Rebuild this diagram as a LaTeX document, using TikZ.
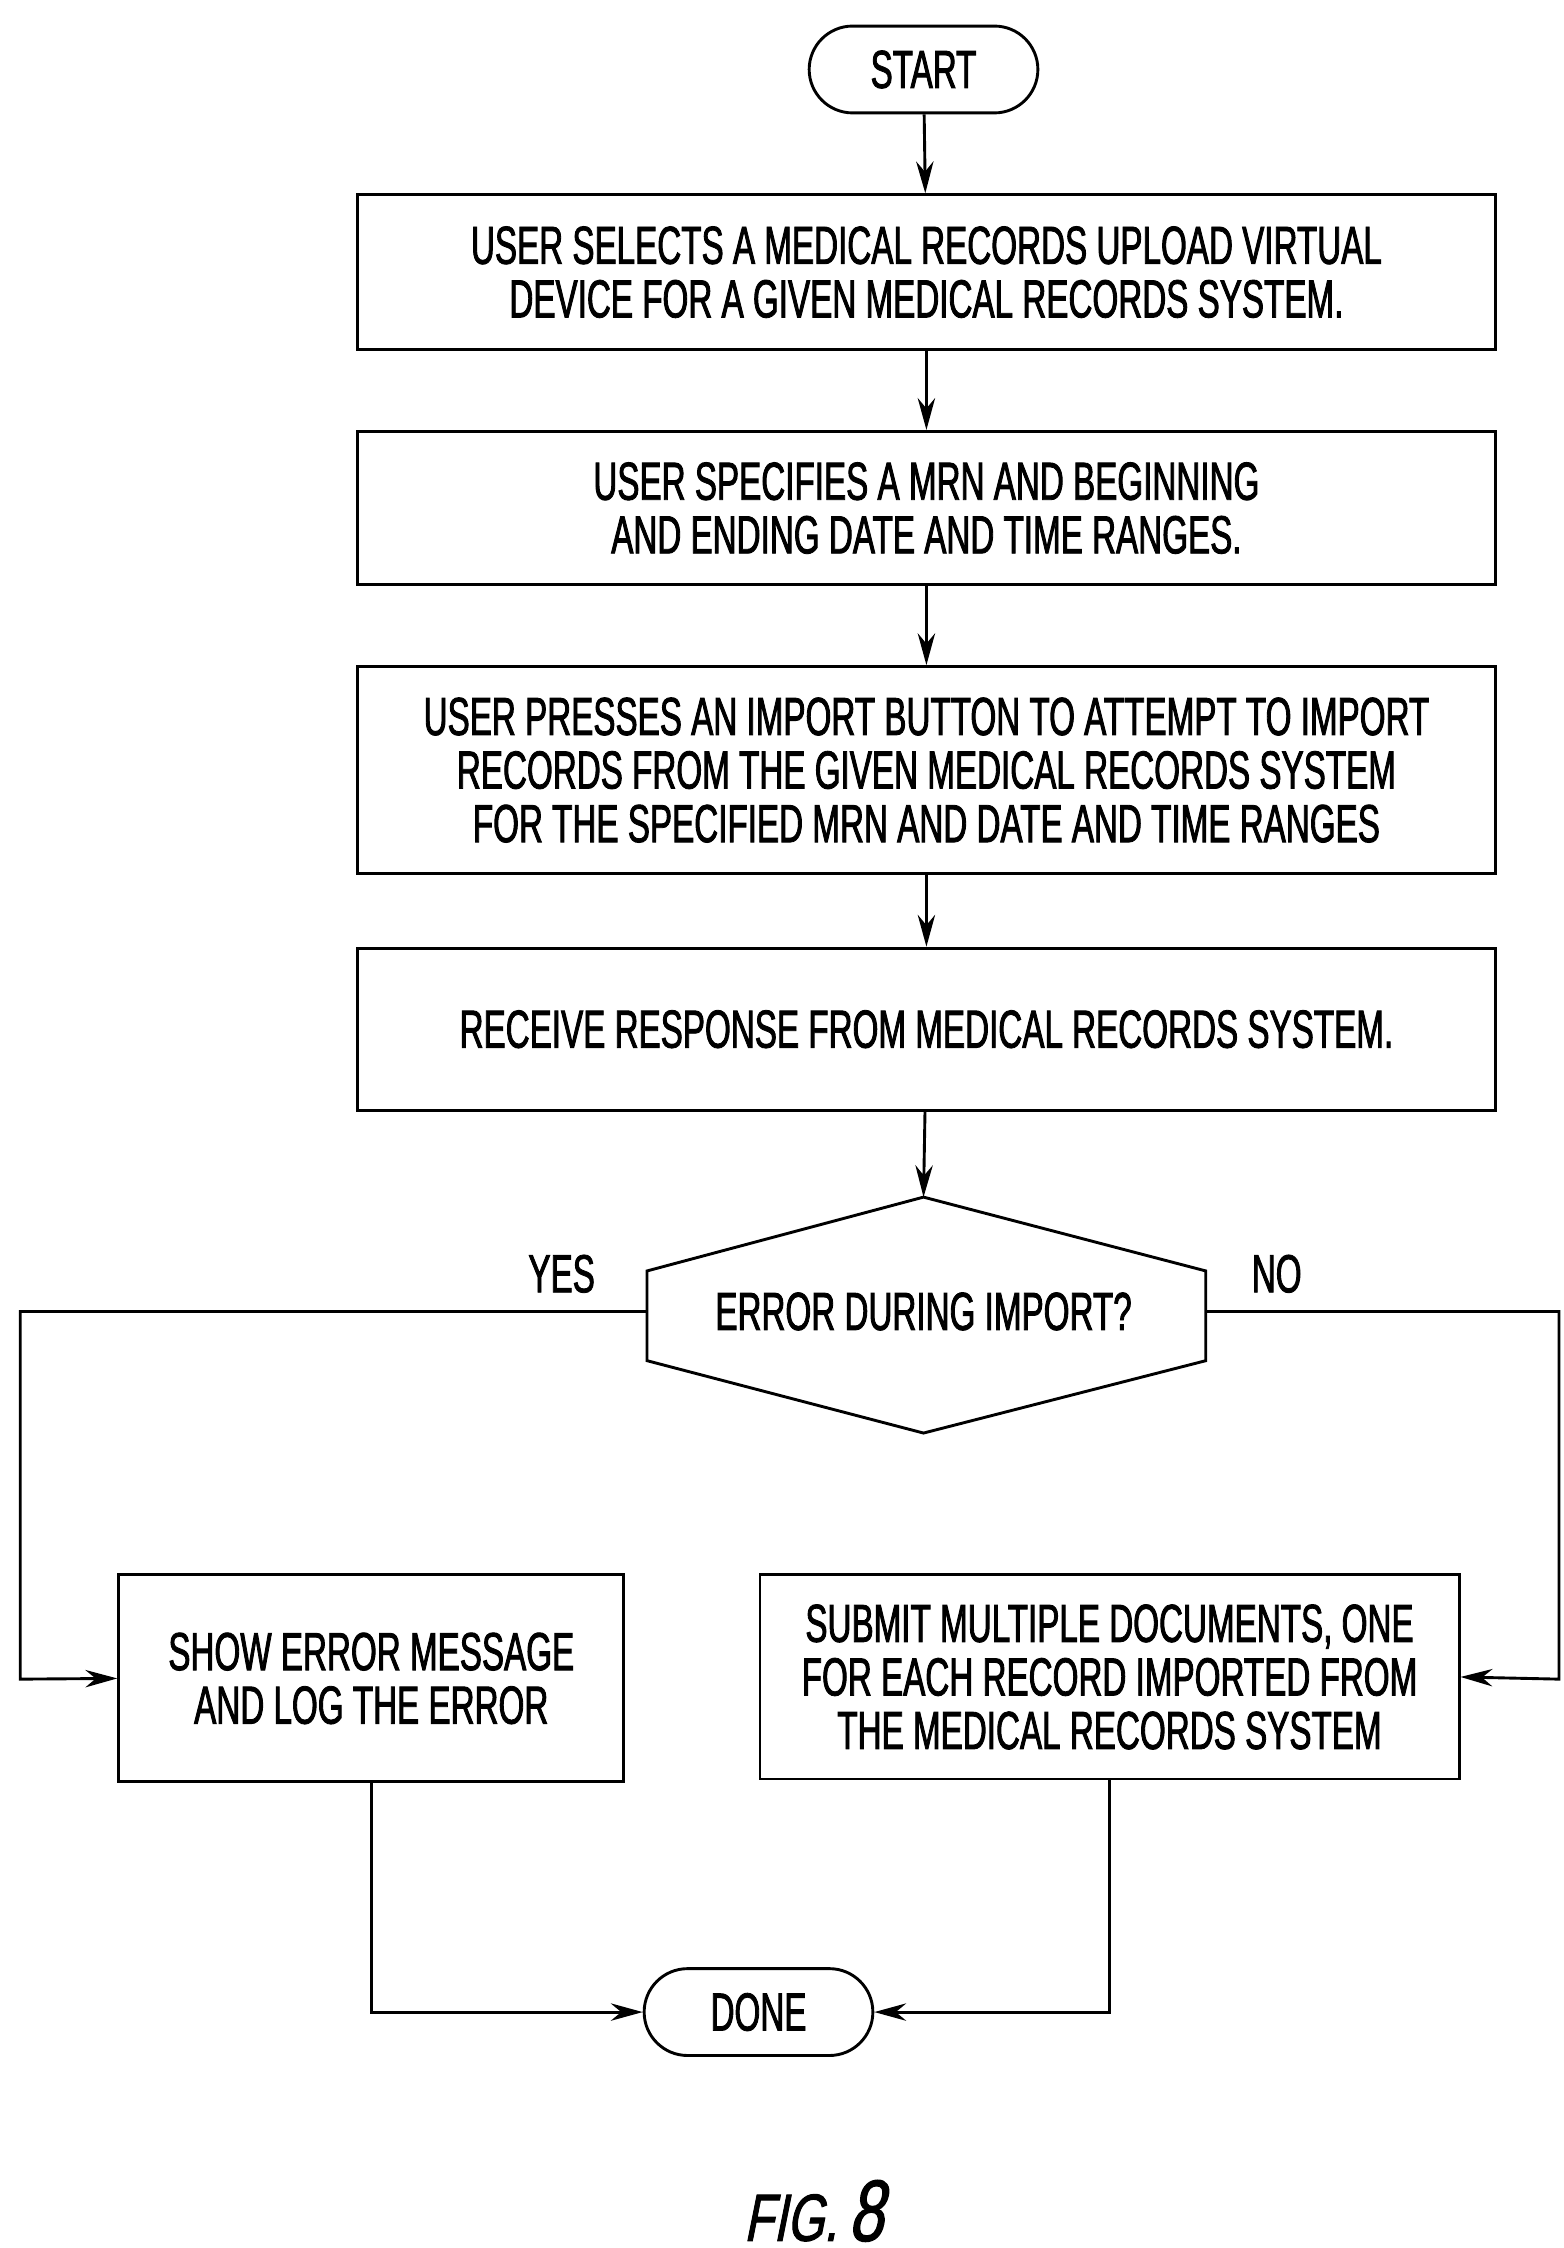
\documentclass[tikz,border=0pt]{standalone}
\usepackage{fontspec}
\setmainfont{Liberation Sans}[FakeStretch=0.62,FakeBold=1.6]
\newfontfamily\figfont{Liberation Sans}[FakeStretch=0.72,FakeBold=1.5,FakeSlant=0.2]
\usetikzlibrary{arrows.meta}
\begin{document}
\begin{tikzpicture}[x=1pt,y=-1pt,
  line width=2pt,
  every node/.style={font=\fontsize{37}{37}\selectfont, align=center, inner sep=0pt},
  box/.style={draw, line width=2pt},
  arr/.style={-{Stealth[length=22pt,width=12pt]}}]
\useasboundingbox (0,0) rectangle (1080,1553);
\node[box, rounded corners=30pt, minimum width=158pt, minimum height=60pt] (start) at (638,48) {START};
\node[box, minimum width=786pt, minimum height=107pt] (b1) at (640,188) {USER SELECTS A MEDICAL RECORDS UPLOAD VIRTUAL\\DEVICE FOR A GIVEN MEDICAL RECORDS SYSTEM.};
\node[box, minimum width=786pt, minimum height=106pt] (b2) at (640,351) {USER SPECIFIES A MRN AND BEGINNING\\AND ENDING DATE AND TIME RANGES.};
\node[box, minimum width=786pt, minimum height=143pt] (b3) at (640,532) {USER PRESSES AN IMPORT BUTTON TO ATTEMPT TO IMPORT\\RECORDS FROM THE GIVEN MEDICAL RECORDS SYSTEM\\FOR THE SPECIFIED MRN AND DATE AND TIME RANGES};
\node[box, minimum width=786pt, minimum height=112pt] (b4) at (640,711) {RECEIVE RESPONSE FROM MEDICAL RECORDS SYSTEM.};
\coordinate (dt) at (638,827);
\coordinate (dl) at (447,906);
\coordinate (dr) at (833,906);
\draw (638,827) -- (833,878) -- (833,940) -- (638,990) -- (447,940) -- (447,878) -- cycle;
\node (d) at (638,906) {ERROR DURING IMPORT?};
\node (yes) at (388,880) {YES};
\node (no) at (882,880) {NO};
\node[box, minimum width=349pt, minimum height=143pt] (l) at (256.5,1159.5) {SHOW ERROR MESSAGE\\AND LOG THE ERROR};
\node[box, minimum width=483pt, minimum height=141pt] (r) at (766.5,1158.5) {SUBMIT MULTIPLE DOCUMENTS, ONE\\FOR EACH RECORD IMPORTED FROM\\THE MEDICAL RECORDS SYSTEM};
\node[box, rounded corners=30pt, minimum width=158pt, minimum height=60pt] (done) at (524,1390) {DONE};
\node[font=\figfont\fontsize{46}{46}\selectfont, anchor=base] (fig) at (562,1548) {FIG.\,\fontsize{60}{60}\selectfont 8};
\draw[arr] (start) -- (b1);
\draw[arr] (b1) -- (b2);
\draw[arr] (b2) -- (b3);
\draw[arr] (b3) -- (b4);
\draw[arr] (b4) -- (dt);
\draw[arr] (dl) -| (14,1160) -- (l.west);
\draw[arr] (dr) -| (1077,1160) -- (r.east);
\draw[arr] (l.south) |- (done.west);
\draw[arr] (r.south) |- (done.east);
\end{tikzpicture}
\end{document}
